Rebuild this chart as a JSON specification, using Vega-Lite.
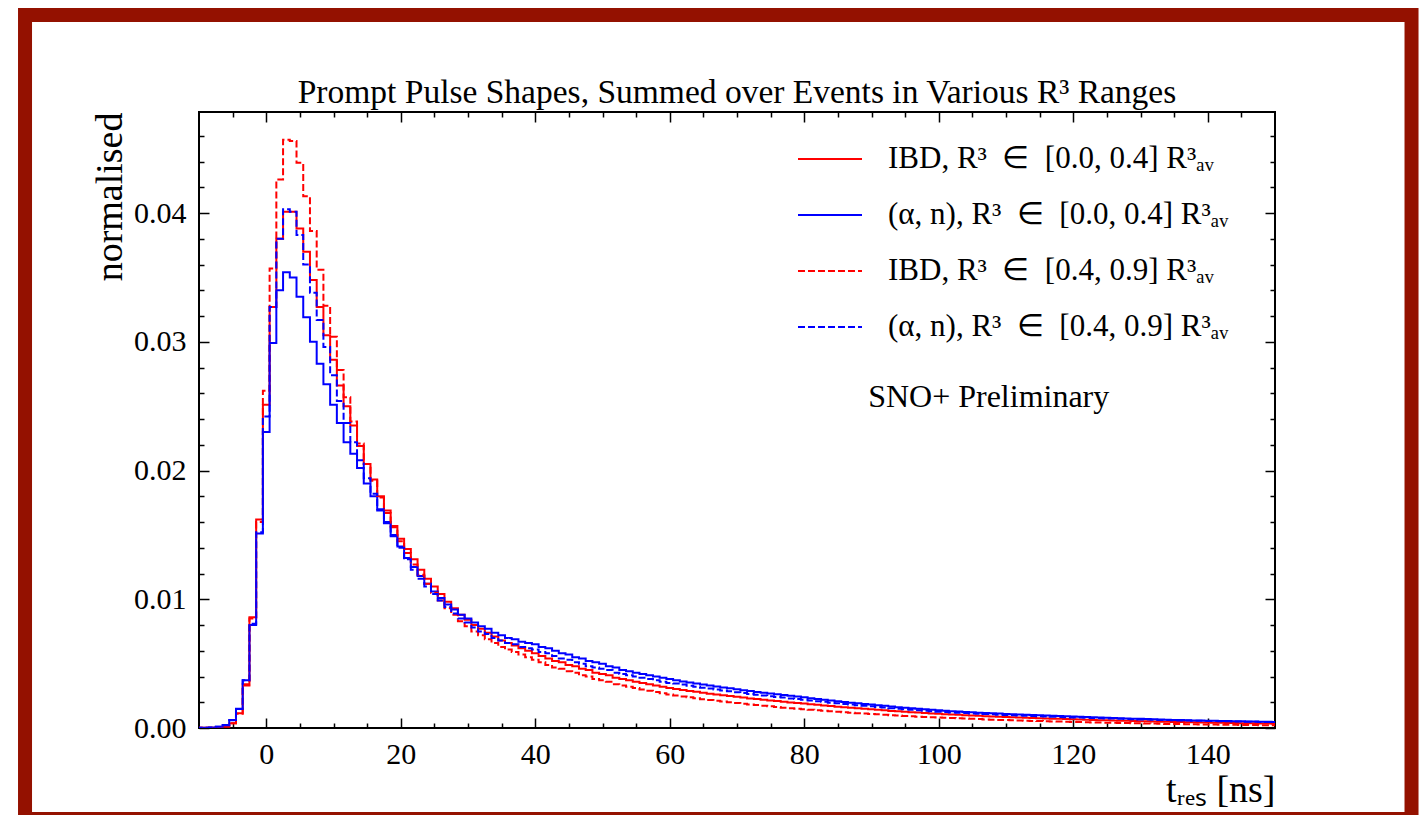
{
"$schema": "https://vega.github.io/schema/vega-lite/v6.json",
"width": 1076, "height": 616,
"autosize": {"type": "none"},
"padding": {"left": 199, "top": 112, "right": 147, "bottom": 87},
"background": "white",
"config": {
 "view": {"stroke": "black", "strokeWidth": 2},
 "axis": {"grid": false, "domain": false, "labelFont": "Liberation Serif", "labelFontSize": 30, "labelColor": "black", "titleFont": "Liberation Serif", "titleFontSize": 38, "titleFontWeight": "normal", "titleColor": "black", "tickColor": "black", "tickWidth": 1.5, "labelFlush": false, "labelOverlap": false}
},
"title": {"text": "Prompt Pulse Shapes, Summed over Events in Various R³ Ranges", "font": "Liberation Serif", "fontSize": 33.5, "fontWeight": "normal", "color": "black", "offset": 9, "dy": 111},
"datasets": {
"dummy": [{"t": 0, "value": 0}],
"h": [
{"t":-10.5,"a":0.00001,"b":0.00002,"c":0.00001,"d":0.00002},
{"t":-9.5,"a":0.00001,"b":0.00002,"c":0.00001,"d":0.00002},
{"t":-8.5,"a":0.00002,"b":0.00004,"c":0.00002,"d":0.00004},
{"t":-7.5,"a":0.00005,"b":0.00009,"c":0.00005,"d":0.00009},
{"t":-6.5,"a":0.00012,"b":0.00023,"c":0.00012,"d":0.00022},
{"t":-5.5,"a":0.00037,"b":0.00062,"c":0.00036,"d":0.0006},
{"t":-4.5,"a":0.00114,"b":0.0015,"c":0.0011,"d":0.00148},
{"t":-3.5,"a":0.0034,"b":0.0037,"c":0.0033,"d":0.0037},
{"t":-2.5,"a":0.0086,"b":0.008,"c":0.0085,"d":0.0081},
{"t":-1.5,"a":0.0162,"b":0.0151,"c":0.016,"d":0.0152},
{"t":-0.5,"a":0.0251,"b":0.023,"c":0.0262,"d":0.0242},
{"t":0.5,"a":0.0327,"b":0.0299,"c":0.0357,"d":0.0327},
{"t":1.5,"a":0.038,"b":0.034,"c":0.0426,"d":0.038},
{"t":2.5,"a":0.0401,"b":0.0354,"c":0.0457,"d":0.0403},
{"t":3.5,"a":0.0401,"b":0.035,"c":0.0456,"d":0.0401},
{"t":4.5,"a":0.0388,"b":0.0335,"c":0.0439,"d":0.0383},
{"t":5.5,"a":0.037,"b":0.0319,"c":0.0413,"d":0.036},
{"t":6.5,"a":0.0348,"b":0.03,"c":0.0386,"d":0.0338},
{"t":7.5,"a":0.0327,"b":0.0283,"c":0.0356,"d":0.0317},
{"t":8.5,"a":0.0305,"b":0.0267,"c":0.0328,"d":0.0296},
{"t":9.5,"a":0.0286,"b":0.0251,"c":0.0304,"d":0.0274},
{"t":10.5,"a":0.0266,"b":0.0237,"c":0.0278,"d":0.0254},
{"t":11.5,"a":0.025,"b":0.0222,"c":0.0257,"d":0.0237},
{"t":12.5,"a":0.0235,"b":0.0213,"c":0.0238,"d":0.0222},
{"t":13.5,"a":0.0219,"b":0.0202,"c":0.0221,"d":0.0208},
{"t":14.5,"a":0.0205,"b":0.019,"c":0.0205,"d":0.0194},
{"t":15.5,"a":0.0193,"b":0.018,"c":0.0192,"d":0.0182},
{"t":16.5,"a":0.018,"b":0.0169,"c":0.0179,"d":0.017},
{"t":17.5,"a":0.0169,"b":0.016,"c":0.0167,"d":0.0159},
{"t":18.5,"a":0.0157,"b":0.015,"c":0.0156,"d":0.0149},
{"t":19.5,"a":0.0147,"b":0.0141,"c":0.0145,"d":0.014},
{"t":20.5,"a":0.0139,"b":0.0132,"c":0.0136,"d":0.0131},
{"t":21.5,"a":0.0131,"b":0.0125,"c":0.0127,"d":0.0123},
{"t":22.5,"a":0.0123,"b":0.0118,"c":0.0119,"d":0.0116},
{"t":23.5,"a":0.0116,"b":0.0112,"c":0.0112,"d":0.011},
{"t":24.5,"a":0.011,"b":0.0106,"c":0.0105,"d":0.0104},
{"t":25.5,"a":0.0104,"b":0.0101,"c":0.0099,"d":0.0099},
{"t":26.5,"a":0.0098,"b":0.0096,"c":0.0093,"d":0.0094},
{"t":27.5,"a":0.0093,"b":0.0092,"c":0.0088,"d":0.0089},
{"t":28.5,"a":0.0088,"b":0.0088,"c":0.0083,"d":0.0085},
{"t":29.5,"a":0.0084,"b":0.0085,"c":0.0079,"d":0.0082},
{"t":30.5,"a":0.008,"b":0.0082,"c":0.0075,"d":0.0078},
{"t":31.5,"a":0.0077,"b":0.0079,"c":0.0072,"d":0.0075},
{"t":32.5,"a":0.0074,"b":0.0077,"c":0.0069,"d":0.0073},
{"t":33.5,"a":0.0071,"b":0.0074,"c":0.0066,"d":0.007},
{"t":34.5,"a":0.0068,"b":0.0072,"c":0.0063,"d":0.0068},
{"t":35.5,"a":0.0066,"b":0.007,"c":0.0061,"d":0.0066},
{"t":36.5,"a":0.0064,"b":0.0069,"c":0.0059,"d":0.0065},
{"t":37.5,"a":0.0062,"b":0.0067,"c":0.0057,"d":0.0063},
{"t":38.5,"a":0.006,"b":0.0066,"c":0.0055,"d":0.0062},
{"t":39.5,"a":0.0058,"b":0.0065,"c":0.0053,"d":0.0061},
{"t":40.5,"a":0.0056,"b":0.0063,"c":0.0051,"d":0.0059},
{"t":41.5,"a":0.0054,"b":0.0062,"c":0.0049,"d":0.0058},
{"t":42.5,"a":0.0052,"b":0.006,"c":0.0047,"d":0.0056},
{"t":43.5,"a":0.0051,"b":0.0058,"c":0.0046,"d":0.0054},
{"t":44.5,"a":0.0049,"b":0.0057,"c":0.0044,"d":0.0053},
{"t":45.5,"a":0.0048,"b":0.0055,"c":0.0043,"d":0.0051},
{"t":46.5,"a":0.0046,"b":0.0054,"c":0.0041,"d":0.005},
{"t":47.5,"a":0.0045,"b":0.0052,"c":0.004,"d":0.0048},
{"t":48.5,"a":0.0043,"b":0.0051,"c":0.0038,"d":0.0047},
{"t":49.5,"a":0.0042,"b":0.005,"c":0.0037,"d":0.0046},
{"t":50.5,"a":0.0041,"b":0.0048,"c":0.0036,"d":0.0045},
{"t":51.5,"a":0.0039,"b":0.0047,"c":0.0034,"d":0.0043},
{"t":52.5,"a":0.0038,"b":0.0045,"c":0.0033,"d":0.0042},
{"t":53.5,"a":0.0037,"b":0.0044,"c":0.0032,"d":0.0041},
{"t":54.5,"a":0.0036,"b":0.0043,"c":0.0031,"d":0.004},
{"t":55.5,"a":0.0035,"b":0.0042,"c":0.003,"d":0.0039},
{"t":56.5,"a":0.0034,"b":0.0041,"c":0.0029,"d":0.0038},
{"t":57.5,"a":0.0033,"b":0.004,"c":0.0028,"d":0.0037},
{"t":58.5,"a":0.0032,"b":0.0039,"c":0.0027,"d":0.0036},
{"t":59.5,"a":0.0031,"b":0.0038,"c":0.0026,"d":0.0035},
{"t":60.5,"a":0.00302,"b":0.0037,"c":0.00252,"d":0.00345},
{"t":61.5,"a":0.00295,"b":0.00362,"c":0.00245,"d":0.00337},
{"t":62.5,"a":0.00288,"b":0.00354,"c":0.00238,"d":0.00329},
{"t":63.5,"a":0.00281,"b":0.00346,"c":0.00231,"d":0.00321},
{"t":64.5,"a":0.00274,"b":0.00338,"c":0.00224,"d":0.00313},
{"t":65.5,"a":0.00267,"b":0.0033,"c":0.00218,"d":0.00306},
{"t":66.5,"a":0.00261,"b":0.00322,"c":0.00212,"d":0.00299},
{"t":67.5,"a":0.00254,"b":0.00315,"c":0.00206,"d":0.00292},
{"t":68.5,"a":0.00248,"b":0.00308,"c":0.002,"d":0.00285},
{"t":69.5,"a":0.00242,"b":0.00301,"c":0.00194,"d":0.00278},
{"t":70.5,"a":0.00236,"b":0.00294,"c":0.00188,"d":0.00272},
{"t":71.5,"a":0.0023,"b":0.00287,"c":0.00183,"d":0.00265},
{"t":72.5,"a":0.00225,"b":0.0028,"c":0.00178,"d":0.00259},
{"t":73.5,"a":0.00219,"b":0.00274,"c":0.00173,"d":0.00253},
{"t":74.5,"a":0.00214,"b":0.00268,"c":0.00168,"d":0.00247},
{"t":75.5,"a":0.00209,"b":0.00262,"c":0.00163,"d":0.00241},
{"t":76.5,"a":0.00204,"b":0.00256,"c":0.00158,"d":0.00236},
{"t":77.5,"a":0.00199,"b":0.0025,"c":0.00154,"d":0.0023},
{"t":78.5,"a":0.00194,"b":0.00244,"c":0.0015,"d":0.00225},
{"t":79.5,"a":0.0019,"b":0.00238,"c":0.00146,"d":0.00219},
{"t":80.5,"a":0.00185,"b":0.00232,"c":0.00142,"d":0.00214},
{"t":81.5,"a":0.0018,"b":0.00226,"c":0.00138,"d":0.00208},
{"t":82.5,"a":0.00175,"b":0.0022,"c":0.00134,"d":0.00203},
{"t":83.5,"a":0.0017,"b":0.00214,"c":0.0013,"d":0.00197},
{"t":84.5,"a":0.00166,"b":0.00208,"c":0.00126,"d":0.00192},
{"t":85.5,"a":0.00161,"b":0.00202,"c":0.00122,"d":0.00187},
{"t":86.5,"a":0.00157,"b":0.00197,"c":0.00118,"d":0.00182},
{"t":87.5,"a":0.00153,"b":0.00192,"c":0.00115,"d":0.00177},
{"t":88.5,"a":0.00149,"b":0.00187,"c":0.00112,"d":0.00172},
{"t":89.5,"a":0.00145,"b":0.00182,"c":0.00109,"d":0.00168},
{"t":90.5,"a":0.00141,"b":0.00177,"c":0.00106,"d":0.00163},
{"t":91.5,"a":0.00137,"b":0.00172,"c":0.00103,"d":0.00159},
{"t":92.5,"a":0.00133,"b":0.00167,"c":0.001,"d":0.00154},
{"t":93.5,"a":0.0013,"b":0.00162,"c":0.00097,"d":0.0015},
{"t":94.5,"a":0.00126,"b":0.00158,"c":0.00094,"d":0.00146},
{"t":95.5,"a":0.00123,"b":0.00153,"c":0.00091,"d":0.00142},
{"t":96.5,"a":0.0012,"b":0.00149,"c":0.00088,"d":0.00138},
{"t":97.5,"a":0.00116,"b":0.00145,"c":0.00086,"d":0.00134},
{"t":98.5,"a":0.00113,"b":0.00141,"c":0.00083,"d":0.00131},
{"t":99.5,"a":0.0011,"b":0.00137,"c":0.00081,"d":0.00127},
{"t":100.5,"a":0.00107,"b":0.00134,"c":0.00079,"d":0.00124},
{"t":101.5,"a":0.00105,"b":0.00131,"c":0.00077,"d":0.00121},
{"t":102.5,"a":0.00102,"b":0.00128,"c":0.00075,"d":0.00118},
{"t":103.5,"a":0.001,"b":0.00125,"c":0.00073,"d":0.00116},
{"t":104.5,"a":0.00097,"b":0.00122,"c":0.00071,"d":0.00113},
{"t":105.5,"a":0.00095,"b":0.00119,"c":0.00069,"d":0.0011},
{"t":106.5,"a":0.00092,"b":0.00117,"c":0.00067,"d":0.00108},
{"t":107.5,"a":0.0009,"b":0.00114,"c":0.00065,"d":0.00106},
{"t":108.5,"a":0.00088,"b":0.00112,"c":0.00063,"d":0.00103},
{"t":109.5,"a":0.00086,"b":0.00109,"c":0.00062,"d":0.00101},
{"t":110.5,"a":0.00084,"b":0.00107,"c":0.0006,"d":0.00099},
{"t":111.5,"a":0.00082,"b":0.00105,"c":0.00058,"d":0.00097},
{"t":112.5,"a":0.0008,"b":0.00103,"c":0.00057,"d":0.00095},
{"t":113.5,"a":0.00078,"b":0.00101,"c":0.00055,"d":0.00093},
{"t":114.5,"a":0.00076,"b":0.00099,"c":0.00054,"d":0.00091},
{"t":115.5,"a":0.00074,"b":0.00097,"c":0.00052,"d":0.00089},
{"t":116.5,"a":0.00072,"b":0.00095,"c":0.00051,"d":0.00088},
{"t":117.5,"a":0.00071,"b":0.00093,"c":0.0005,"d":0.00086},
{"t":118.5,"a":0.00069,"b":0.00091,"c":0.00048,"d":0.00084},
{"t":119.5,"a":0.00068,"b":0.00089,"c":0.00047,"d":0.00082},
{"t":120.5,"a":0.00066,"b":0.00087,"c":0.00046,"d":0.00081},
{"t":121.5,"a":0.00064,"b":0.00085,"c":0.00045,"d":0.00079},
{"t":122.5,"a":0.00063,"b":0.00083,"c":0.00043,"d":0.00077},
{"t":123.5,"a":0.00061,"b":0.00081,"c":0.00042,"d":0.00076},
{"t":124.5,"a":0.0006,"b":0.00079,"c":0.00041,"d":0.00074},
{"t":125.5,"a":0.00058,"b":0.00077,"c":0.0004,"d":0.00073},
{"t":126.5,"a":0.00057,"b":0.00076,"c":0.00039,"d":0.00071},
{"t":127.5,"a":0.00056,"b":0.00074,"c":0.00038,"d":0.0007},
{"t":128.5,"a":0.00054,"b":0.00072,"c":0.00037,"d":0.00068},
{"t":129.5,"a":0.00053,"b":0.00071,"c":0.00036,"d":0.00067},
{"t":130.5,"a":0.00052,"b":0.00069,"c":0.00035,"d":0.00066},
{"t":131.5,"a":0.0005,"b":0.00068,"c":0.00034,"d":0.00064},
{"t":132.5,"a":0.00049,"b":0.00066,"c":0.00033,"d":0.00063},
{"t":133.5,"a":0.00048,"b":0.00065,"c":0.00032,"d":0.00062},
{"t":134.5,"a":0.00047,"b":0.00063,"c":0.00031,"d":0.00061},
{"t":135.5,"a":0.00046,"b":0.00062,"c":0.00031,"d":0.00059},
{"t":136.5,"a":0.00045,"b":0.00061,"c":0.0003,"d":0.00058},
{"t":137.5,"a":0.00044,"b":0.00059,"c":0.00029,"d":0.00057},
{"t":138.5,"a":0.00043,"b":0.00058,"c":0.00028,"d":0.00056},
{"t":139.5,"a":0.00042,"b":0.00057,"c":0.00027,"d":0.00055},
{"t":140.5,"a":0.00041,"b":0.00056,"c":0.00027,"d":0.00054},
{"t":141.5,"a":0.0004,"b":0.00055,"c":0.00026,"d":0.00053},
{"t":142.5,"a":0.00039,"b":0.00054,"c":0.00025,"d":0.00052},
{"t":143.5,"a":0.00038,"b":0.00053,"c":0.00025,"d":0.00051},
{"t":144.5,"a":0.00037,"b":0.00052,"c":0.00024,"d":0.0005},
{"t":145.5,"a":0.00036,"b":0.00051,"c":0.00023,"d":0.00049},
{"t":146.5,"a":0.00036,"b":0.0005,"c":0.00023,"d":0.00048},
{"t":147.5,"a":0.00035,"b":0.00049,"c":0.00022,"d":0.00047},
{"t":148.5,"a":0.00034,"b":0.00048,"c":0.00022,"d":0.00046},
{"t":149.5,"a":0.00033,"b":0.00047,"c":0.00021,"d":0.00046},
{"t":150.5,"a":0.00033,"b":0.00047,"c":0.00021,"d":0.00046}
]
},
"layer": [
{
 "data": {"values": [{}]},
 "mark": {"type": "rect", "filled": false, "color": "#941100", "strokeWidth": 14, "clip": false},
 "encoding": {
  "x": {"datum": -35.87, "type": "quantitative", "axis": null, "scale": {"domain": [-10, 150], "nice": false, "zero": false}},
  "x2": {"datum": 170.3},
  "y": {"datum": 0.05538, "type": "quantitative", "axis": null, "scale": {"domain": [0, 0.04785], "nice": false}},
  "y2": {"datum": -0.00707}
 }
},
{
 "data": {"name": "h"},
 "transform": [{"fold": ["a", "b", "c", "d"], "as": ["series", "value"]}],
 "mark": {"type": "line", "interpolate": "step-after", "strokeWidth": 2, "clip": true},
 "encoding": {
  "x": {"field": "t", "type": "quantitative", "scale": {"domain": [-10, 150], "nice": false, "zero": false},
        "axis": {"orient": "bottom", "values": [0, 20, 40, 60, 80, 100, 120, 140], "format": "d", "ticks": false, "labelPadding": 11, "title": "tᵣₑₛ [ns]", "titleAnchor": "end", "titlePadding": 2}},
  "y": {"field": "value", "type": "quantitative", "scale": {"domain": [0, 0.04785], "nice": false},
        "axis": {"orient": "left", "values": [0, 0.01, 0.02, 0.03, 0.04], "format": ".2f", "ticks": false, "labelPadding": 13, "title": "normalised", "titleAnchor": "end", "titlePadding": 4}},
  "color": {"field": "series", "type": "nominal", "scale": {"domain": ["a", "b", "c", "d"], "range": ["#ff0000", "#0000ff", "#ff0000", "#0000ff"]},
            "legend": {"orient": "none", "legendX": 614, "legendY": 30, "title": null, "symbolType": "M-2,0H2", "symbolSize": 1024, "symbolStrokeWidth": 2, "labelFont": "Liberation Serif", "labelFontSize": 31, "labelColor": "black", "labelOffset": 41, "rowPadding": 24, "labelLimit": 0, "padding": 0,
                       "labelExpr": "datum.label == 'a' ? 'IBD, R³\u2002∈\u2002[0.0, 0.4] R³ₐᵥ' : datum.label == 'b' ? '(α, n), R³\u2002∈\u2002[0.0, 0.4] R³ₐᵥ' : datum.label == 'c' ? 'IBD, R³\u2002∈\u2002[0.4, 0.9] R³ₐᵥ' : '(α, n), R³\u2002∈\u2002[0.4, 0.9] R³ₐᵥ'"}},
  "strokeDash": {"field": "series", "type": "nominal", "scale": {"domain": ["a", "b", "c", "d"], "range": [[1, 0], [1, 0], [7, 3], [7, 3]]},
            "legend": {"orient": "none", "legendX": 614, "legendY": 30, "title": null, "symbolType": "M-2,0H2", "symbolSize": 1024, "symbolStrokeWidth": 2, "labelFont": "Liberation Serif", "labelFontSize": 31, "labelColor": "black", "labelOffset": 41, "rowPadding": 24, "labelLimit": 0, "padding": 0,
                       "labelExpr": "datum.label == 'a' ? 'IBD, R³\u2002∈\u2002[0.0, 0.4] R³ₐᵥ' : datum.label == 'b' ? '(α, n), R³\u2002∈\u2002[0.0, 0.4] R³ₐᵥ' : datum.label == 'c' ? 'IBD, R³\u2002∈\u2002[0.4, 0.9] R³ₐᵥ' : '(α, n), R³\u2002∈\u2002[0.4, 0.9] R³ₐᵥ'"}}
 }
},
{
 "data": {"values": [{}]},
 "mark": {"type": "text", "align": "left", "baseline": "middle", "font": "Liberation Serif", "fontSize": 32, "color": "black"},
 "encoding": {
  "x": {"datum": 89.5, "type": "quantitative", "axis": null, "scale": {"domain": [-10, 150], "nice": false, "zero": false}},
  "y": {"datum": 0.0257, "type": "quantitative", "axis": null, "scale": {"domain": [0, 0.04785], "nice": false}},
  "text": {"value": "SNO+ Preliminary"}
 }
},
{
 "data": {"name": "dummy"},
 "mark": {"type": "point", "opacity": 0},
 "encoding": {
  "x": {"field": "t", "type": "quantitative", "scale": {"domain": [-10, 150], "nice": false, "zero": false},
        "axis": {"orient": "bottom", "values": [0, 20, 40, 60, 80, 100, 120, 140], "labels": false, "tickSize": -10, "title": null}},
  "y": {"field": "value", "type": "quantitative", "scale": {"domain": [0, 0.04785], "nice": false},
        "axis": {"orient": "left", "values": [0, 0.01, 0.02, 0.03, 0.04], "labels": false, "tickSize": -10, "title": null}}
 }
},
{
 "data": {"name": "dummy"},
 "mark": {"type": "point", "opacity": 0},
 "encoding": {
  "x": {"field": "t", "type": "quantitative", "scale": {"domain": [-10, 150], "nice": false, "zero": false},
        "axis": {"orient": "top", "values": [0, 20, 40, 60, 80, 100, 120, 140], "labels": false, "tickSize": -10, "title": null}},
  "y": {"field": "value", "type": "quantitative", "scale": {"domain": [0, 0.04785], "nice": false},
        "axis": {"orient": "right", "values": [0, 0.01, 0.02, 0.03, 0.04], "labels": false, "tickSize": -10, "title": null}}
 }
},
{
 "data": {"name": "dummy"},
 "mark": {"type": "point", "opacity": 0},
 "encoding": {
  "x": {"field": "t", "type": "quantitative", "scale": {"domain": [-10, 150], "nice": false, "zero": false},
        "axis": {"orient": "bottom", "values": [-5, 5, 10, 15, 25, 30, 35, 45, 50, 55, 65, 70, 75, 85, 90, 95, 105, 110, 115, 125, 130, 135, 145], "labels": false, "tickSize": -5, "title": null}},
  "y": {"field": "value", "type": "quantitative", "scale": {"domain": [0, 0.04785], "nice": false},
        "axis": {"orient": "left", "values": [0.002, 0.004, 0.006, 0.008, 0.012, 0.014, 0.016, 0.018, 0.022, 0.024, 0.026, 0.028, 0.032, 0.034, 0.036, 0.038, 0.042, 0.044, 0.046], "labels": false, "tickSize": -5, "title": null}}
 }
},
{
 "data": {"name": "dummy"},
 "mark": {"type": "point", "opacity": 0},
 "encoding": {
  "x": {"field": "t", "type": "quantitative", "scale": {"domain": [-10, 150], "nice": false, "zero": false},
        "axis": {"orient": "top", "values": [-5, 5, 10, 15, 25, 30, 35, 45, 50, 55, 65, 70, 75, 85, 90, 95, 105, 110, 115, 125, 130, 135, 145], "labels": false, "tickSize": -5, "title": null}},
  "y": {"field": "value", "type": "quantitative", "scale": {"domain": [0, 0.04785], "nice": false},
        "axis": {"orient": "right", "values": [0.002, 0.004, 0.006, 0.008, 0.012, 0.014, 0.016, 0.018, 0.022, 0.024, 0.026, 0.028, 0.032, 0.034, 0.036, 0.038, 0.042, 0.044, 0.046], "labels": false, "tickSize": -5, "title": null}}
 }
}
],
"resolve": {"axis": {"x": "independent", "y": "independent"}}
}
